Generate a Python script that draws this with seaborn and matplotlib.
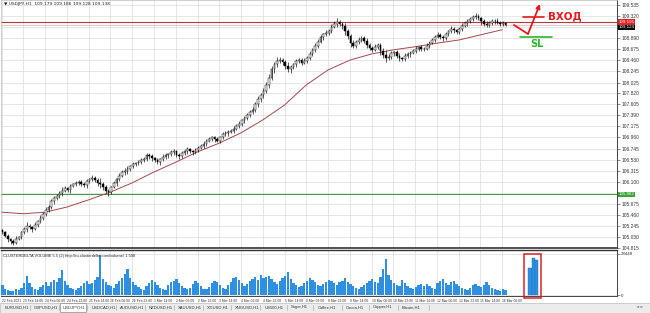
import numpy as np
import pandas as pd
import matplotlib
matplotlib.use("Agg")
import matplotlib.pyplot as plt
import matplotlib.transforms as mtransforms
from matplotlib.patches import Rectangle
import seaborn as sns

# ---------------- data ----------------
title_text = "\u25BC USDJPY,H1  109.179 109.186 109.128 109.138"
volume_title = "CLUSTERDELTA VOLUME 5.5 (2) http://ru.clusterdelta.com/volume/ 1.508"

first_open = 105.16
close = [
    105.12, 105.05, 104.98, 104.95, 104.92, 104.99, 105.03, 105.12, 105.18, 105.25,
    105.22, 105.19, 105.27, 105.33, 105.40, 105.47, 105.55, 105.61, 105.72, 105.78,
    105.83, 105.88, 105.93, 105.97, 105.95, 106.02, 106.05, 106.08, 106.10, 106.05,
    106.03, 106.11, 106.15, 106.18, 106.14, 106.08, 106.05, 106.00, 105.93, 105.90,
    106.00, 106.07, 106.15, 106.22, 106.28, 106.31, 106.34, 106.40, 106.44, 106.47,
    106.49, 106.52, 106.55, 106.61, 106.60, 106.56, 106.52, 106.48, 106.54, 106.58,
    106.61, 106.63, 106.67, 106.69, 106.62, 106.60, 106.65, 106.69, 106.73, 106.70,
    106.67, 106.72, 106.76, 106.80, 106.84, 106.90, 106.93, 106.96, 106.93, 106.90,
    106.96, 107.02, 107.04, 107.07, 107.09, 107.13, 107.18, 107.22, 107.29, 107.34,
    107.39, 107.45, 107.50, 107.60, 107.70, 107.78, 107.86, 107.98, 108.12, 108.28,
    108.38, 108.45, 108.47, 108.42, 108.35, 108.28, 108.33, 108.38, 108.44, 108.47,
    108.41, 108.44, 108.50, 108.58, 108.66, 108.74, 108.82, 108.90, 108.96, 108.99,
    109.03, 109.11, 109.16, 109.20, 109.17, 109.13, 109.02, 108.93, 108.80, 108.74,
    108.81, 108.86, 108.89, 108.84, 108.76, 108.70, 108.66, 108.72, 108.75, 108.63,
    108.56, 108.51, 108.53, 108.60, 108.61, 108.55, 108.50, 108.49, 108.54, 108.57,
    108.60, 108.63, 108.68, 108.71, 108.67, 108.68, 108.74, 108.80, 108.86, 108.91,
    108.95, 108.91, 108.88, 108.96, 109.02, 109.07, 109.04, 109.00, 109.07, 109.13,
    109.18, 109.21, 109.25, 109.29, 109.31, 109.27, 109.21, 109.17, 109.14, 109.18,
    109.21, 109.22, 109.19, 109.16, 109.18, 109.14,
]
# wick extensions beyond the body, in 0.01 units
up_wick = [
    3, 2, 4, 2, 3, 5, 2, 3, 4, 6, 3, 2, 4, 3, 5, 4, 6, 3, 5, 4,
    3, 4, 6, 5, 3, 4, 2, 3, 4, 3, 5, 4, 3, 6, 4, 3, 9, 5, 4, 3,
    2, 4, 3, 5, 4, 6, 7, 3, 4, 2, 3, 4, 3, 5, 4, 3, 2, 4, 3, 5,
    4, 3, 5, 4, 2, 3, 4, 3, 5, 3, 2, 4, 3, 4, 5, 3, 4, 3, 2, 4,
    3, 4, 5, 3, 4, 5, 4, 6, 3, 4, 5, 4, 6, 5, 7, 4, 6, 5, 8, 6,
    5, 7, 6, 4, 5, 8, 4, 3, 5, 4, 3, 6, 4, 5, 4, 6, 5, 4, 3, 5,
    4, 6, 5, 8, 4, 3, 5, 4, 3, 6, 4, 5, 3, 4, 5, 3, 4, 6, 5, 4,
    6, 9, 5, 4, 3, 5, 4, 3, 6, 4, 3, 4, 5, 3, 4, 3, 5, 4, 3, 4,
    5, 3, 4, 5, 3, 6, 4, 3, 4, 5, 3, 4, 5, 4, 6, 4, 3, 5, 4, 3,
    4, 3, 5, 2, 3, 2,
]
dn_wick = [
    4, 3, 5, 6, 4, 3, 2, 4, 3, 5, 4, 6, 3, 4, 3, 5, 4, 3, 4, 5,
    3, 4, 5, 3, 4, 6, 3, 4, 5, 4, 3, 5, 4, 3, 5, 6, 8, 6, 5, 7,
    4, 3, 5, 4, 3, 4, 5, 3, 4, 3, 5, 4, 3, 4, 5, 6, 4, 3, 5, 4,
    3, 4, 3, 5, 4, 6, 4, 3, 5, 4, 6, 3, 4, 3, 4, 5, 3, 4, 5, 3,
    4, 3, 4, 5, 3, 4, 3, 4, 3, 5, 4, 3, 4, 5, 4, 6, 5, 4, 6, 5,
    6, 5, 4, 6, 7, 5, 6, 4, 5, 4, 5, 3, 4, 3, 4, 5, 4, 3, 5, 4,
    5, 4, 3, 5, 4, 6, 7, 6, 8, 5, 4, 3, 4, 5, 6, 4, 5, 3, 4, 7,
    6, 8, 5, 4, 5, 4, 6, 5, 4, 3, 4, 3, 4, 5, 3, 4, 3, 4, 3, 4,
    3, 4, 5, 3, 4, 3, 5, 4, 3, 4, 3, 5, 3, 4, 3, 4, 6, 5, 4, 3,
    3, 4, 3, 4, 3, 2,
]
volume = [
    7000, 4200, 3500, 2800, 3000, 4500, 3800, 5200, 8500, 13500, 8000, 5500,
    4200, 3600, 5800, 7200, 9000, 6500,
    8800, 10500, 9200, 12000, 17600,
    9500, 7000, 5200, 4000,
    3500, 4800, 6200, 8000,
    9500,
    7500, 8200, 10200, 12500,
    27800,
    11000, 9000, 7200, 6000,
    5200, 7800, 9800, 12000, 14500,
    18300,
    11500, 9000, 7000, 5500,
    4200, 3800, 6200, 8500, 10500, 9200, 7000,
    5000, 4200, 3600, 6800, 8900,
    9800, 11200, 8200, 6000, 4800, 3900,
    5200, 7800, 9500, 8600, 6200, 4500,
    4000, 5800, 8000, 10000, 9200, 6800,
    5200, 4200, 6800, 9000, 11500, 12800, 10200, 8000,
    6500, 7800, 9800, 11200, 12500, 10500, 14200,
    11500, 12800, 13500, 10800, 9000,
    7800, 9500, 11800, 13200, 16200, 11000,
    8500, 7200, 5800, 6500, 8200, 9800,
    11500, 10200, 8800, 7000, 6000, 7500,
    9000, 10500, 9800, 8500, 7200, 8800, 9500, 11500,
    9200, 7500, 6200, 5000, 4200, 5500,
    7000, 8200, 9500, 10800, 9000, 8000, 12500, 18000,
    25000,
    14000, 10500, 8500, 7200, 6000,
    10200,
    8000, 6500, 5000, 4200, 5500, 6800, 7500, 6000,
    7500,
    6200, 5000, 4200, 8000, 9800,
    10800,
    8500, 7200, 8800,
    9500,
    7500, 6000, 5000, 4200, 3800, 5200, 6800, 7800, 6200,
    5500, 7000, 8800,
    7000, 5000, 4000, 3500, 3000, 4500, 3800,
]
box_volume = [18800, 25500, 24000]

# moving average, read every 16 hourly bars
ma_values = [105.51, 105.48, 105.51, 105.61, 105.75, 105.90, 106.08, 106.29,
             106.48, 106.68, 106.85, 107.05, 107.30, 107.59, 107.98, 108.27,
             108.46, 108.58, 108.66, 108.72, 108.79, 108.85, 108.95, 109.05]

date_labels = ["22 Feb 2021", "23 Feb 14:00", "24 Feb 06:00", "24 Feb 22:00",
               "25 Feb 14:00", "26 Feb 06:00", "26 Feb 22:00", "1 Mar 14:00",
               "2 Mar 06:00", "2 Mar 22:00", "3 Mar 14:00", "4 Mar 06:00",
               "4 Mar 22:00", "5 Mar 14:00", "8 Mar 06:00", "8 Mar 22:00",
               "9 Mar 14:00", "10 Mar 06:00", "10 Mar 22:00", "11 Mar 14:00",
               "12 Mar 06:00", "12 Mar 22:00", "15 Mar 14:00", "16 Mar 06:00"]

price_labels = ["104.815", "105.030", "105.245", "105.460", "105.675", "105.890",
                "106.100", "106.315", "106.530", "106.745", "106.960", "107.175",
                "107.390", "107.605", "107.820", "108.025", "108.245", "108.460",
                "108.675", "108.890", "109.105", "109.320", "109.535"]

entry_level = 109.20
bid_level = 109.124
ask_line = 109.15
stop_level = 105.862
volume_max = 28448

tabs = ["EURUSD,H1", "GBPUSD,H1", "USDJPY,H1", "USDCAD,H1", "AUDUSD,H1",
        "NZDUSD,H1", "XAUUSD,H1", "XTIUSD,H1", "XNGUSD,H1", "US500,H1",
        "Sugar,H1", "Coffee,H1", "Cocoa,H1", "Copper,H1", "Bitcoin,H1"]
active_tab = "USDJPY,H1"

# ---------------- style ----------------
sns.set_style("white")
plt.rcParams["font.family"] = ["Liberation Sans", "DejaVu Sans"]

W, H = 650, 313
fig = plt.figure(figsize=(W / 100, H / 100), dpi=100)
fig.patch.set_facecolor("white")


def fx(px):
    return px / W


def fy(py):
    return 1 - py / H


px_per_bar = 1.36
x_left = 1
x_right = 617
xlim = (-0.5, (x_right - x_left) / px_per_bar - 0.5)

ax = fig.add_axes([fx(x_left), fy(248), fx(x_right) - fx(x_left), 248 / H])
axv = fig.add_axes([fx(x_left), fy(296), fx(x_right) - fx(x_left), (296 - 250) / H])

# ---------------- candles ----------------
n = len(close)
cl = np.array(close)
op = np.array([first_open] + close[:-1])
hi = np.maximum(op, cl) + np.array(up_wick) / 100.0
lo = np.minimum(op, cl) - np.array(dn_wick) / 100.0
xs = np.arange(n) * 2 + 0.5
bull = cl >= op

ax.vlines(xs, lo, hi, color="black", lw=0.45, zorder=3)
body_h = np.maximum(np.abs(cl - op), 0.004)
ax.bar(xs, body_h, bottom=np.minimum(op, cl), width=1.25,
       color=np.where(bull, "white", "black"), edgecolor="black",
       linewidth=0.35, zorder=4)

ma_df = pd.DataFrame({"bar": np.arange(len(ma_values)) * 16, "ma": ma_values})
sns.lineplot(data=ma_df, x="bar", y="ma", ax=ax, color="#a8474a", lw=0.7, zorder=2)
ax.set_xlabel("")
ax.set_ylabel("")

# horizontal lines
ax.axhline(entry_level, color="#b33a3a", lw=0.8, zorder=1)
ax.axhline(ask_line, color="#f1b9b9", lw=0.6, zorder=1)
ax.axhline(stop_level, color="#3a9a3a", lw=0.7, zorder=1)

# axes formatting
tick_vals = [float(s) for s in price_labels]
box_levels = [entry_level, bid_level, stop_level]
shown_labels = [s if min(abs(v - b) for b in box_levels) > 0.06 else ""
                for s, v in zip(price_labels, tick_vals)]
ax.set_ylim(104.815, 109.627)
ax.set_xlim(*xlim)
ax.set_yticks(tick_vals)
ax.set_yticklabels(shown_labels)
ax.get_yticklabels()[0].set_va("bottom")
date_pos = np.arange(len(date_labels)) * 16
ax.set_xticks(date_pos)
ax.set_xticklabels([])
ax.yaxis.tick_right()
ax.tick_params(axis="y", right=True, left=False, labelright=True, labelleft=False,
               labelsize=3.5, length=2, width=0.4, pad=1, colors="#333333")
ax.tick_params(axis="x", length=0)
ax.grid(True, color="#dcdcdc", lw=0.5)
ax.set_axisbelow(True)
for s in ["left", "top"]:
    ax.spines[s].set_color("#bdbdbd")
    ax.spines[s].set_linewidth(0.5)
ax.spines["right"].set_color("#444444")
ax.spines["right"].set_linewidth(0.7)
ax.spines["bottom"].set_color("#333333")
ax.spines["bottom"].set_linewidth(1.2)

# right side price labels
trans = mtransforms.blended_transform_factory(ax.transAxes, ax.transData)
box_kw = dict(transform=trans, fontsize=3.2, color="white", va="center",
              ha="left", clip_on=False, zorder=10)
ax.text(1.003, entry_level, "109.195",
        bbox=dict(boxstyle="square,pad=0.12", fc="#e02424", ec="none"), **box_kw)
ax.text(1.003, entry_level - 0.103, "109.124",
        bbox=dict(boxstyle="square,pad=0.12", fc="black", ec="none"), **box_kw)
ax.text(1.003, stop_level, "105.862",
        bbox=dict(boxstyle="square,pad=0.12", fc="#3aa33a", ec="none"), **box_kw)

# entry / stop drawings
red = "#e8191d"
green = "#2fb52f"
ax.plot([376.7, 387.0], [109.142, 108.968], color=red, lw=1.3, zorder=6,
        solid_capstyle="round")
ax.annotate("", xy=(395.8, 109.55), xytext=(387.0, 108.968),
            arrowprops=dict(arrowstyle="-|>", color=red, lw=1.3,
                            mutation_scale=6, shrinkA=0, shrinkB=0), zorder=6)
ax.plot([383.3, 398.8], [109.292, 109.292], color=red, lw=1.2, zorder=6)
ax.text(401.7, 109.303, "ВХОД", color=red, fontsize=7.4, fontweight="bold",
        va="center", ha="left", zorder=7, family=["DejaVu Sans"])
ax.plot([381.1, 405.0], [108.915, 108.915], color=green, lw=1.2, zorder=6)
ax.text(393.3, 108.78, "SL", color=green, fontsize=7.0, fontweight="bold",
        va="center", ha="center", zorder=7, family=["DejaVu Sans"])

fig.text(fx(4), fy(3.5), title_text, fontsize=3.2, va="center", ha="left",
         color="#222222", family=["DejaVu Sans"])

# ---------------- volume ----------------
axv.bar(xs, volume, width=1.7, color="#2f8fe0", edgecolor="none", zorder=3)
box_x = [388.5, 391.0, 393.5]
axv.bar(box_x, box_volume, width=2.4, color="#2f8fe0", edgecolor="#1a6fc0",
        linewidth=0.3, zorder=3)
axv.set_xlim(*xlim)
# 0 at 1 px above the bottom, volume_max at 4 px below the top
axv.set_ylim(-677, 31157)
axv.add_patch(Rectangle((384.1, -2032), 12.5, volume_max + 2032, fill=False,
                        ec="#e02020", lw=1.1, clip_on=False, zorder=8))
axv.set_yticks([0, volume_max])
axv.set_yticklabels(["0", str(volume_max)])
axv.get_yticklabels()[1].set_va("top")
axv.yaxis.tick_right()
axv.tick_params(axis="y", right=True, left=False, labelright=True, labelleft=False,
                labelsize=3.2, length=2, width=0.4, pad=1, colors="#333333")
axv.set_xticks(date_pos)
axv.set_xticklabels(date_labels)
for lbl in axv.get_xticklabels():
    lbl.set_ha("left")
axv.tick_params(axis="x", labelsize=2.4, length=1.5, width=0.4, pad=0.6,
                colors="#333333")
axv.grid(True, color="#dcdcdc", lw=0.5)
axv.set_axisbelow(True)
axv.spines["left"].set_color("#bdbdbd")
axv.spines["left"].set_linewidth(0.5)
axv.spines["top"].set_color("#333333")
axv.spines["top"].set_linewidth(1.0)
axv.spines["right"].set_color("#444444")
axv.spines["right"].set_linewidth(0.7)
axv.spines["bottom"].set_color("#444444")
axv.spines["bottom"].set_linewidth(0.7)
axv.text(0.004, 0.88, volume_title, transform=axv.transAxes, fontsize=2.9,
         va="center", ha="left", color="#222222")

# ---------------- tab bar ----------------
fig.add_artist(Rectangle((0, 0), 1, (313 - 302.5) / H, transform=fig.transFigure,
                         fc="#ececec", ec="#bcbcbc", lw=0.5, zorder=0))
tab_x = 5
for name in tabs:
    w = len(name) * 2.2 + 9
    if name == active_tab:
        fig.add_artist(Rectangle((fx(tab_x - 3), fy(311.5)), (w - 2) / W, 8.5 / H,
                                 transform=fig.transFigure, fc="white",
                                 ec="#8a8a8a", lw=0.5, zorder=1))
    fig.text(fx(tab_x), fy(307.3), name, fontsize=3.0, va="center", ha="left",
             color="#333333", zorder=2)
    fig.add_artist(plt.Line2D([fx(tab_x + w - 4)] * 2, [fy(305), fy(309.8)],
                              transform=fig.transFigure, color="#9a9a9a", lw=0.4))
    tab_x += w
fig.text(fx(636), fy(307.3), "\u25C4 \u25BA", fontsize=3, va="center", ha="left",
         color="#888888", family=["DejaVu Sans"])

fig.savefig("out.png", dpi=100)
